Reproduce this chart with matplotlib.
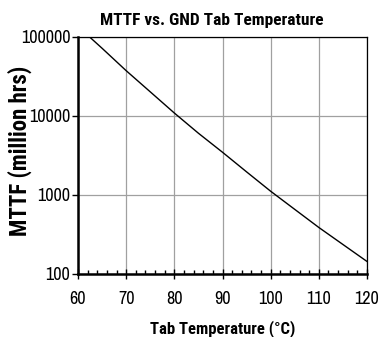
import numpy as np
import matplotlib
matplotlib.use("Agg")
import matplotlib.pyplot as plt
from matplotlib.ticker import FixedLocator, MultipleLocator, NullLocator

# MTTF vs. GND tab temperature
tab_temp = [62.3, 65, 70, 75, 80, 85, 90, 95, 100, 105, 110, 115, 120]
mttf = [100000, 71000, 37000, 20000, 10800, 6000, 3450, 1950, 1110, 655, 387, 236, 144]

x_ticks = [60, 70, 80, 90, 100, 110, 120]
y_ticks = [100, 1000, 10000, 100000]
y_tick_labels = ["100", "1000", "10000", "100000"]

plt.rcParams['font.family'] = ['Archivo Narrow', 'Liberation Sans', 'DejaVu Sans']
bold_font = ['Roboto Condensed', 'Liberation Sans', 'DejaVu Sans']

W, H = 380, 337
fig = plt.figure(figsize=(W / 100, H / 100), dpi=100)
ax = fig.add_axes([78 / W, 1 - 274 / H, 289 / W, 237.5 / H])

ax.plot(tab_temp, mttf, color='black', linewidth=1.0)

ax.set_yscale('log')
ax.set_xlim(60, 120)
ax.set_ylim(100, 100000)

ax.xaxis.set_major_locator(FixedLocator(x_ticks))
ax.xaxis.set_minor_locator(MultipleLocator(2))
ax.yaxis.set_major_locator(FixedLocator(y_ticks))
ax.yaxis.set_minor_locator(NullLocator())
ax.set_yticklabels(y_tick_labels)
ax.set_xticklabels([str(v) for v in x_ticks])

ax.grid(True, which='major', color='#a0a0a0', linewidth=0.9)
ax.set_axisbelow(True)

# spines: thick left / bottom, thin top / right
ax.spines['left'].set_linewidth(1.8)
ax.spines['bottom'].set_linewidth(1.8)
ax.spines['top'].set_linewidth(0.9)
ax.spines['right'].set_linewidth(0.9)
for s in ax.spines.values():
    s.set_color('black')

ax.tick_params(axis='x', which='major', direction='inout', length=7, width=1.0,
               labelsize=13, pad=9)
ax.tick_params(axis='x', which='minor', direction='in', length=3, width=1.0)
ax.tick_params(axis='y', which='major', direction='out', length=4, width=1.0,
               labelsize=13, pad=1.5)

fig.text(212 / W, 1 - 20 / H, 'MTTF vs. GND Tab Temperature', fontsize=12.5,
         fontweight='bold', family=bold_font, ha='center', va='center')

ax.set_xlabel('Tab Temperature (°C)', fontsize=12, fontweight='bold',
              family=bold_font, va='center')
ax.xaxis.set_label_coords(0.5, -(329 - 274) / 237.5)
ax.set_ylabel('MTTF (million hrs)', fontsize=16.5, fontweight='bold',
              family=bold_font, va='center')
ax.yaxis.set_label_coords(-(78 - 20) / 289, 0.518)

fig.savefig('out.png', dpi=100)
